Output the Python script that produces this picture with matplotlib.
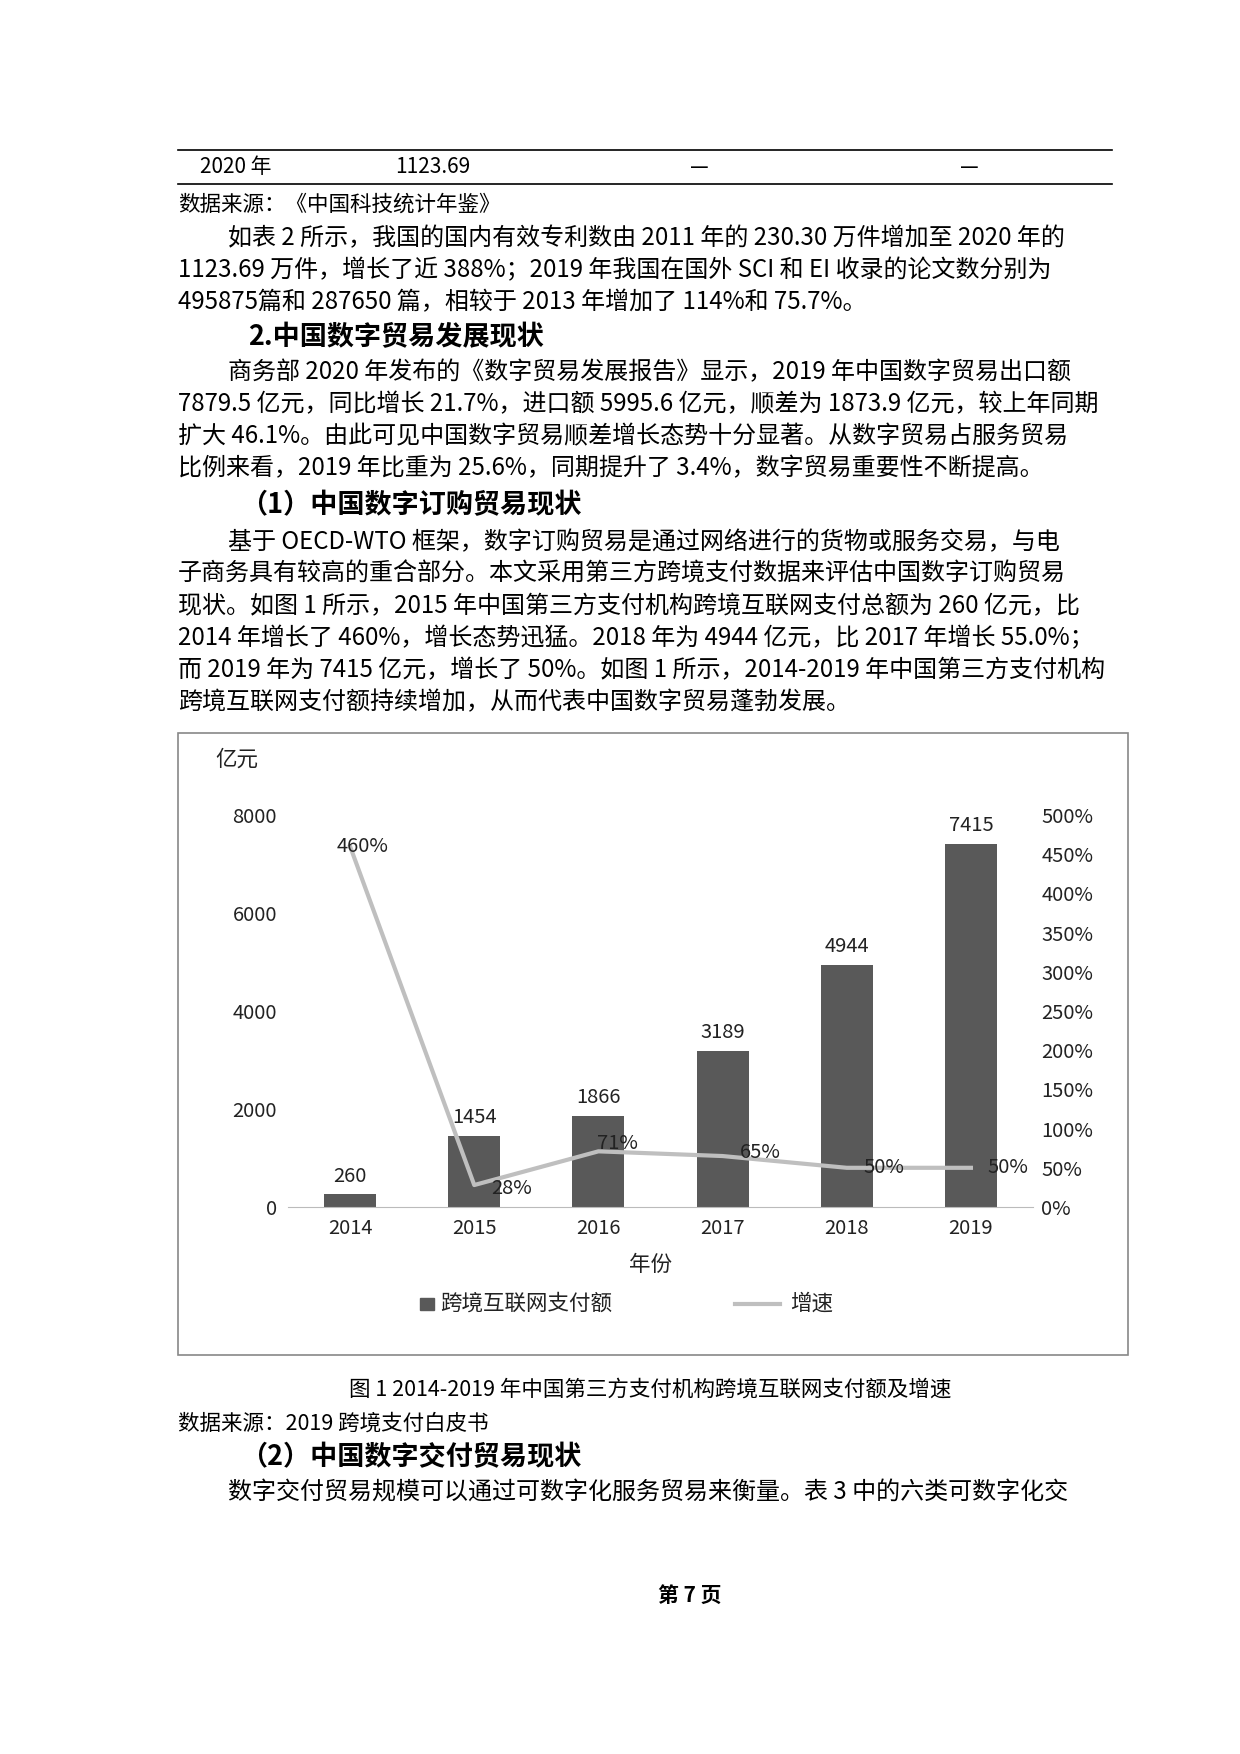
import matplotlib
matplotlib.use("Agg")
import matplotlib.pyplot as plt
from matplotlib.patches import Rectangle
from matplotlib.lines import Line2D

plt.rcParams['font.family'] = ['Noto Sans CJK SC', 'DejaVu Sans']

years = ['2014', '2015', '2016', '2017', '2018', '2019']
payments = [260, 1454, 1866, 3189, 4944, 7415]
growth = [460, 28, 71, 65, 50, 50]
left_ticks = [0, 2000, 4000, 6000, 8000]
right_ticks = list(range(0, 501, 50))

W, H = 1240, 1754
fig = plt.figure(figsize=(W/100, H/100), dpi=100)

def T(x, y, s, size=16.5, **kw):
    fig.text(x/W, 1-y/H, s, fontsize=size, va='center', **kw)

def hline(x0, x1, y, lw=1.2):
    fig.add_artist(Line2D([x0/W, x1/W], [1-y/H, 1-y/H], color='black', lw=lw))

hline(178, 1112, 150)
hline(178, 1112, 184)
T(200, 167, '2020 年', 15)
T(395, 167, '1123.69', 15)
T(690, 167, '—', 15)
T(960, 167, '—', 15)

T(178, 205, '数据来源：《中国科技统计年鉴》', 15.5)
body = [
    (228, 238, '如表 2 所示，我国的国内有效专利数由 2011 年的 230.30 万件增加至 2020 年的'),
    (178, 270, '1123.69 万件，增长了近 388%；2019 年我国在国外 SCI 和 EI 收录的论文数分别为'),
    (178, 302, '495875篇和 287650 篇，相较于 2013 年增加了 114%和 75.7%。'),
    (228, 372, '商务部 2020 年发布的《数字贸易发展报告》显示，2019 年中国数字贸易出口额'),
    (178, 404, '7879.5 亿元，同比增长 21.7%，进口额 5995.6 亿元，顺差为 1873.9 亿元，较上年同期'),
    (178, 436, '扩大 46.1%。由此可见中国数字贸易顺差增长态势十分显著。从数字贸易占服务贸易'),
    (178, 468, '比例来看，2019 年比重为 25.6%，同期提升了 3.4%，数字贸易重要性不断提高。'),
    (228, 542, '基于 OECD-WTO 框架，数字订购贸易是通过网络进行的货物或服务交易，与电'),
    (178, 574, '子商务具有较高的重合部分。本文采用第三方跨境支付数据来评估中国数字订购贸易'),
    (178, 606, '现状。如图 1 所示，2015 年中国第三方支付机构跨境互联网支付总额为 260 亿元，比'),
    (178, 638, '2014 年增长了 460%，增长态势迅猛。2018 年为 4944 亿元，比 2017 年增长 55.0%；'),
    (178, 670, '而 2019 年为 7415 亿元，增长了 50%。如图 1 所示，2014-2019 年中国第三方支付机构'),
    (178, 702, '跨境互联网支付额持续增加，从而代表中国数字贸易蓬勃发展。'),
    (228, 1493, '数字交付贸易规模可以通过可数字化服务贸易来衡量。表 3 中的六类可数字化交'),
]
for x, y, s in body:
    T(x, y, s, 17.3)

T(248, 337, '2.中国数字贸易发展现状', 19.5, fontweight='bold')
T(240, 505, '（1）中国数字订购贸易现状', 19.5, fontweight='bold')
T(240, 1457, '（2）中国数字交付贸易现状', 19.5, fontweight='bold')
T(650, 1390, '图 1 2014-2019 年中国第三方支付机构跨境互联网支付额及增速', 15.5, ha='center')
T(178, 1424, '数据来源：2019 跨境支付白皮书', 15.5)
T(690, 1595, '第 7 页', 15, ha='center', fontweight='bold')

fig.add_artist(Rectangle((178/W, 1-1355/H), (1128-178)/W, (1355-733)/H,
                         fill=False, edgecolor='#888888', lw=1.2))

ax = fig.add_axes([288/W, 1-1207/H, (1033-288)/W, (1207-815)/H])
x = list(range(len(years)))
ax.bar(x, payments, width=0.42, color='#595959', zorder=2)
ax.set_ylim(0, 8000)
ax.set_xlim(-0.5, 5.5)
ax.set_yticks(left_ticks)
ax.set_xticks(x)
ax.set_xticklabels(years)
ax.tick_params(labelsize=14.5, length=0, colors='#222222', pad=8)
for s in ['top', 'right', 'left']:
    ax.spines[s].set_visible(False)
ax.spines['bottom'].set_color('#bbbbbb')
for xi, v in zip(x, payments):
    ax.text(xi, v + 150, str(v), ha='center', va='bottom', fontsize=14.5, color='#222222')

ax2 = ax.twinx()
ax2.plot(x, growth, color='#BFBFBF', lw=3, zorder=3)
ax2.set_ylim(0, 500)
ax2.set_yticks(right_ticks)
ax2.set_yticklabels([f'{t}%' for t in right_ticks])
ax2.tick_params(labelsize=14.5, length=0, colors='#222222', pad=6)
for s in ['top', 'right', 'left', 'bottom']:
    ax2.spines[s].set_visible(False)
offs = [(0.1, 0), (0.3, -5), (0.15, 10), (0.3, 5), (0.3, 0), (0.3, 0)]
for xi, v, (dx, dy) in zip(x, growth, offs):
    ax2.text(xi + dx, v + dy, f'{v}%', ha='center', va='center', fontsize=14.5, color='#222222')

T(215, 760, '亿元', 15.5, color='#222222')
T(650, 1265, '年份', 15.5, color='#222222', ha='center')
fig.add_artist(Rectangle((420/W, 1-1310/H), 14/W, 12/H, color='#595959'))
T(440, 1304, '跨境互联网支付额', 15.5, color='#222222')
fig.add_artist(Line2D([735/W, 780/W], [1-1304/H, 1-1304/H], color='#BFBFBF', lw=3))
T(790, 1304, '增速', 15.5, color='#222222')

fig.savefig('out.png', dpi=100)
